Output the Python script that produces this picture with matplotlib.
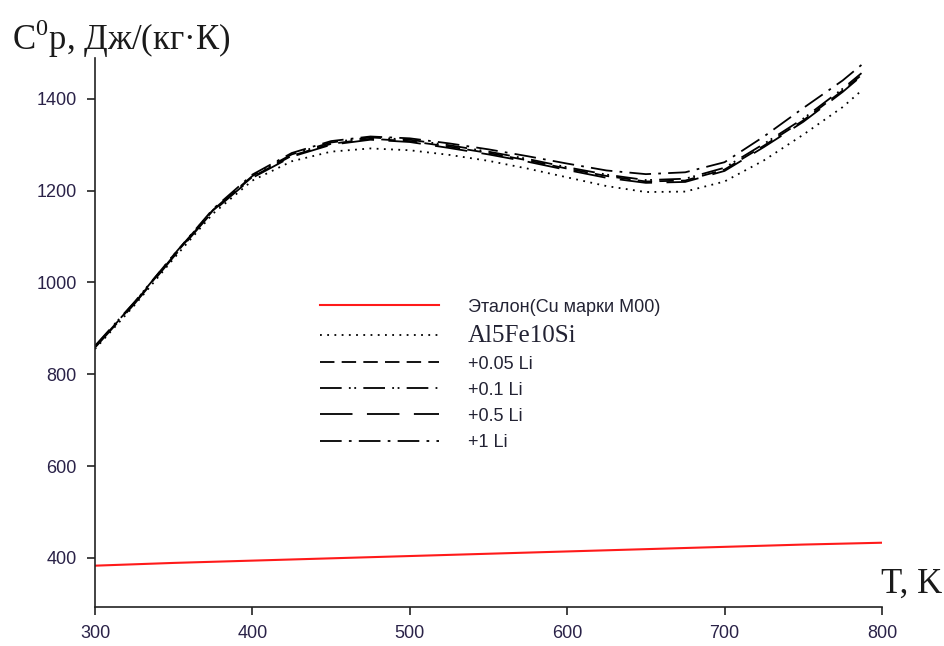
import matplotlib
matplotlib.use("Agg")
import matplotlib.pyplot as plt

plt.rcParams['mathtext.fontset'] = 'custom'
plt.rcParams['mathtext.rm'] = 'Liberation Serif'

# temperature grid, K
T = [300, 325, 350, 375, 400, 425, 450, 475, 500, 525, 550, 575, 600, 625, 650, 675, 700, 725, 750, 775, 787]

alloy = [855, 950, 1052, 1150, 1222, 1264, 1285, 1292, 1288, 1278, 1265, 1248, 1229, 1210, 1197, 1198, 1220, 1266, 1322, 1382, 1418]
li_005 = [860, 955, 1058, 1157, 1230, 1276, 1302, 1313, 1308, 1296, 1282, 1266, 1248, 1232, 1220, 1222, 1246, 1298, 1353, 1418, 1452]
li_01 = [862, 957, 1060, 1158, 1232, 1279, 1305, 1316, 1311, 1299, 1285, 1269, 1251, 1235, 1223, 1226, 1250, 1302, 1357, 1422, 1456]
li_05 = [858, 953, 1056, 1155, 1228, 1274, 1300, 1311, 1306, 1293, 1279, 1263, 1245, 1228, 1217, 1219, 1243, 1295, 1350, 1415, 1450]
li_1 = [860, 956, 1060, 1160, 1235, 1282, 1308, 1318, 1314, 1303, 1290, 1275, 1259, 1244, 1236, 1240, 1262, 1318, 1380, 1440, 1474]

T_cu = [300, 350, 400, 450, 500, 550, 600, 650, 700, 750, 800]
cu = [383, 389, 394, 399, 404, 409, 414, 419, 424, 429, 433]

labels = ["Эталон(Cu марки M00)", "Al5Fe10Si", "+0.05 Li", "+0.1 Li", "+0.5 Li", "+1 Li"]

fig = plt.figure(figsize=(9.45, 6.46), dpi=100)
ax = fig.add_axes([0.1005, 0.0604, 0.8328, 0.8498])

lw = 1.3
ax.plot(T_cu, cu, color="#ff1a1a", lw=1.5, label=labels[0])
ax.plot(T, alloy, color="black", lw=lw, ls=(0, (1, 3)), label=labels[1])
ax.plot(T, li_005, color="black", lw=lw, ls=(0, (8, 4)), label=labels[2])
ax.plot(T, li_01, color="black", lw=lw, ls=(0, (12, 4, 1, 2, 1, 4)), label=labels[3])
ax.plot(T, li_05, color="black", lw=lw, ls=(0, (18, 8)), label=labels[4])
ax.plot(T, li_1, color="black", lw=lw, ls=(0, (12, 4, 1.5, 4)), label=labels[5])

ax.set_xlim(300, 800)
ax.set_ylim(293, 1489)
ax.set_xticks([300, 400, 500, 600, 700, 800])
ax.set_yticks([400, 600, 800, 1000, 1200, 1400])

for s in ["top", "right"]:
    ax.spines[s].set_visible(False)
for s in ["left", "bottom"]:
    ax.spines[s].set_linewidth(1.2)
    ax.spines[s].set_color("#222222")
ax.tick_params(direction="out", length=6, width=1.2, color="#222222",
               labelsize=13, labelcolor="#2a2248", pad=7)
for lab in ax.get_xticklabels() + ax.get_yticklabels():
    lab.set_fontfamily("Liberation Sans")

leg = ax.legend(loc="upper left", bbox_to_anchor=(0.274, 0.578), frameon=False,
                handlelength=6.6, handletextpad=1.6, labelspacing=0.5,
                borderpad=0, prop={"family": "Liberation Sans", "size": 13})
leg.get_texts()[1].set_fontfamily("Liberation Serif")
leg.get_texts()[1].set_fontsize(18)
for t in leg.get_texts():
    t.set_color("#222233")

fig.text(0.013, 0.94, r"C$^\mathrm{0}$p, Дж/(кг·К)", family="Liberation Serif",
         fontsize=25, color="#1a1a1a", ha="left", va="center")
fig.text(0.997, 0.095, "T, K", family="Liberation Serif", fontsize=25,
         color="#1a1a1a", ha="right", va="center")

fig.savefig("out.png", dpi=100)
